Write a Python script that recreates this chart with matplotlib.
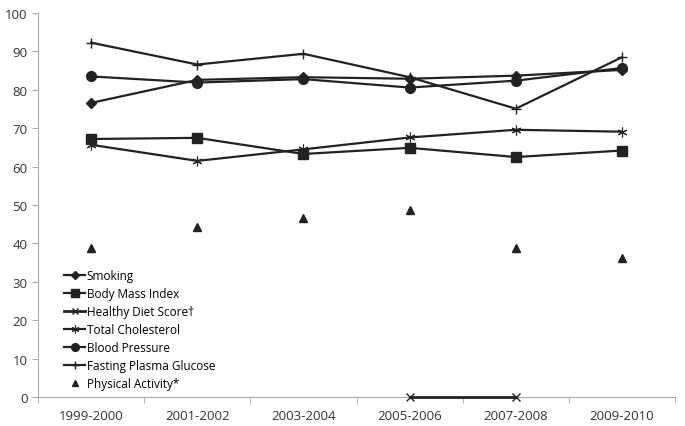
import numpy as np
import matplotlib.pyplot as plt

plt.rcParams['font.family'] = ['Open Sans', 'DejaVu Sans']

periods = ['1999-2000', '2001-2002', '2003-2004', '2005-2006', '2007-2008', '2009-2010']

smoking = [76.6, 82.6, 83.3, 82.9, 83.7, 85.2]
bmi = [67.2, 67.5, 63.3, 64.9, 62.5, 64.2]
diet = [np.nan, np.nan, np.nan, 0, 0, np.nan]
cholesterol = [65.7, 61.5, 64.5, 67.6, 69.6, 69.1]
blood_pressure = [83.5, 81.9, 82.8, 80.6, 82.4, 85.7]
glucose = [92.3, 86.6, 89.4, 83.3, 75.1, 88.5]
activity = [38.9, 44.2, 46.6, 48.8, 38.9, 36.1]

col = '#222222'
fig = plt.figure(figsize=(6.85, 4.27), dpi=100)
ax = fig.add_axes([0.0555, 0.068, 0.93, 0.899])

x = np.arange(len(periods))
lw = 1.6
ax.plot(x, smoking, color=col, lw=lw, marker='D', ms=5, label='Smoking')
ax.plot(x, bmi, color=col, lw=lw, marker='s', ms=7, label='Body Mass Index')
ax.plot(x, diet, color=col, lw=lw + 0.4, marker='x', ms=6, mew=1, label='Healthy Diet Score\u2020',
        clip_on=False, zorder=5)
ax.plot(x, cholesterol, color=col, lw=lw, marker=(6, 2, 0), ms=7, mew=0.8, label='Total Cholesterol')
ax.plot(x, blood_pressure, color=col, lw=lw, marker='o', ms=7, label='Blood Pressure')
ax.plot(x, glucose, color=col, lw=lw, marker='+', ms=7, mew=1, label='Fasting Plasma Glucose')
ax.plot(x, activity, color=col, lw=0, marker='^', ms=5.5, label='Physical Activity*')

ax.set_xlim(-0.5, 5.5)
ax.set_ylim(0, 100)
ax.set_yticks(np.arange(0, 101, 10))
ax.set_xticks(x)
ax.set_xticklabels(periods)
ax.set_xticks(np.arange(-0.5, 5.6, 1), minor=True)
ax.tick_params(axis='x', which='major', length=0, pad=9, labelsize=9.5, colors='#333333')
ax.tick_params(axis='x', which='minor', length=4, color='#aaaaaa')
ax.tick_params(axis='y', length=4, color='#aaaaaa', labelsize=9.5, labelcolor='#333333')

for s in ['top', 'right']:
    ax.spines[s].set_visible(False)
for s in ['left', 'bottom']:
    ax.spines[s].set_color('#aaaaaa')

ax.legend(loc='lower left', bbox_to_anchor=(0.03, 0.0), frameon=False, fontsize=8.5,
          handlelength=1.8, handletextpad=0.1, labelspacing=0.42, borderaxespad=0.2,
          markerscale=0.8)

fig.savefig('out.png', dpi=100)
